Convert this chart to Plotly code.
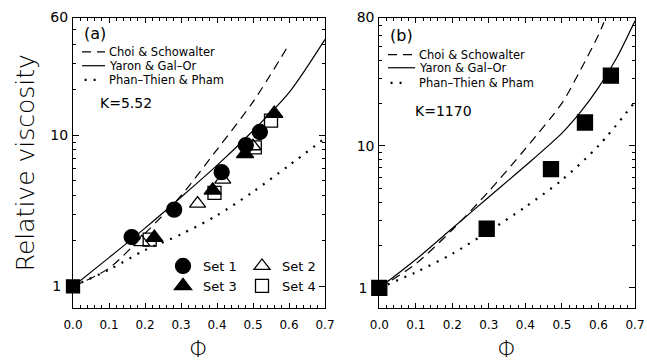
import plotly.graph_objects as go

# ---------------- data ----------------
# Panel (a), K = 5.52
phi_yaron_a = [0.0, 0.1, 0.2, 0.3, 0.4, 0.5, 0.6, 0.7]
eta_yaron_a = [1.00, 1.55, 2.43, 3.89, 6.31, 10.7, 19.1, 43.0]
phi_choi_a = [0.0, 0.1, 0.2, 0.3, 0.4, 0.5, 0.6]
eta_choi_a = [1.00, 1.32, 2.24, 3.98, 8.04, 16.6, 39.8]
phi_phan_a = [0.0, 0.1, 0.2, 0.3, 0.4, 0.5, 0.6, 0.7]
eta_phan_a = [1.00, 1.29, 1.74, 2.21, 2.95, 4.22, 6.31, 9.55]

phi_ref_a = [0.0]
eta_ref_a = [1.0]
phi_set1 = [0.163, 0.281, 0.413, 0.480, 0.519]
eta_set1 = [2.12, 3.22, 5.69, 8.59, 10.5]
phi_set2 = [0.191, 0.346, 0.416, 0.500]
eta_set2 = [1.96, 3.53, 5.09, 8.45]
phi_set3 = [0.226, 0.388, 0.478, 0.559]
eta_set3 = [2.10, 4.32, 7.53, 13.9]
phi_set4 = [0.213, 0.393, 0.505, 0.550]
eta_set4 = [2.04, 4.15, 8.30, 12.5]

# Panel (b), K = 1170
phi_yaron_b = [0.0, 0.1, 0.2, 0.3, 0.4, 0.5, 0.55, 0.6, 0.65, 0.7]
eta_yaron_b = [1.00, 1.585, 2.63, 4.37, 7.24, 12.3, 17.2, 25.7, 41.7, 75.9]
phi_choi_b = [0.0, 0.1, 0.2, 0.3, 0.4, 0.5, 0.55, 0.6, 0.615]
eta_choi_b = [1.00, 1.48, 2.57, 4.79, 9.55, 20.0, 33.9, 60.3, 74.1]
phi_phan_b = [0.0, 0.1, 0.2, 0.3, 0.4, 0.5, 0.6, 0.7]
eta_phan_b = [1.00, 1.29, 1.74, 2.51, 3.72, 5.75, 10.0, 20.4]
phi_exp_b = [0.0, 0.294, 0.470, 0.563, 0.634]
eta_exp_b = [1.00, 2.61, 6.85, 14.6, 31.2]

x_ticks = [0.0, 0.1, 0.2, 0.3, 0.4, 0.5, 0.6, 0.7]
y_ticks_a = [1, 10, 60]
y_ticks_b = [1, 10, 80]
y_minor = [2, 3, 4, 5, 6, 7, 8, 9, 20, 30, 40, 50, 60, 70]
model_names = ["Choi & Schowalter", "Yaron & Gal\u2013Or", "Phan\u2013Thien & Pham"]
set_names = ["Set 1", "Set 2", "Set 3", "Set 4"]

# ---------------- figure ----------------
FONT = "DejaVu Sans"
fig = go.Figure()

def line(x, y, ax, dash, width):
    fig.add_trace(go.Scatter(x=x, y=y, mode="lines", xaxis=ax[0], yaxis=ax[1],
                             line=dict(color="black", width=width, dash=dash, shape="spline",
                                       smoothing=0.8),
                             showlegend=False, hoverinfo="skip"))

A = ("x", "y")
B = ("x2", "y2")
DASH = "9px,6px"
DOT = "2px,7px"
line(phi_choi_a, eta_choi_a, A, DASH, 1.2)
line(phi_yaron_a, eta_yaron_a, A, "solid", 1.2)
line(phi_phan_a, eta_phan_a, A, DOT, 2.2)
line(phi_choi_b, eta_choi_b, B, DASH, 1.2)
line(phi_yaron_b, eta_yaron_b, B, "solid", 1.2)
line(phi_phan_b, eta_phan_b, B, DOT, 2.2)

def pts(x, y, ax, symbol, size, name=None, legend=None):
    fig.add_trace(go.Scatter(x=x, y=y, mode="markers", xaxis=ax[0], yaxis=ax[1],
                             marker=dict(symbol=symbol, size=size, color="black",
                                         line=dict(color="black", width=1.3)),
                             name=name, showlegend=name is not None,
                             legend=legend, cliponaxis=False))

pts(phi_ref_a, eta_ref_a, A, "square", 13)
pts(phi_set1, eta_set1, A, "circle", 15, set_names[0], "legend")
pts(phi_set3, eta_set3, A, "triangle-up", 15, set_names[2], "legend")
pts(phi_set2, eta_set2, A, "triangle-up-open", 14, set_names[1], "legend2")
pts(phi_set4, eta_set4, A, "square-open", 13, set_names[3], "legend2")
pts(phi_exp_b, eta_exp_b, B, "square", 15)

# axes
XD_A = [73 / 647, 325 / 647]
XD_B = [379.3 / 647, 635 / 647]
YD = [54 / 362, 344.5 / 362]

xcommon = dict(range=[0, 0.7], tickvals=x_ticks, tickformat=".1f", ticks="inside",
               ticklen=5, tickwidth=1, tickcolor="black", showline=True, linecolor="black",
               linewidth=1, mirror="allticks", showgrid=False, zeroline=False,
               ticklabelstandoff=6,
               minor=dict(ticks="inside", ticklen=3, dtick=0.02, tickcolor="black", showgrid=False),
               tickfont=dict(family=FONT, size=12, color="black"), automargin=False,
               title=dict(text="\u03a6", font=dict(family=FONT, size=23, color="black", weight=300),
                          standoff=14))
ycommon = dict(type="log", ticks="inside", ticklen=6, tickwidth=1, tickcolor="black",
               showline=True, linecolor="black", linewidth=1, mirror="allticks",
               showgrid=False, zeroline=False, tickmode="array", ticklabelstandoff=1,
               minor=dict(ticks="inside", ticklen=3, tickvals=y_minor, tickcolor="black", showgrid=False),
               tickfont=dict(family=FONT, size=14, color="black"), automargin=False)

def tick_text(vals):
    return [("1\u2002" if v == 1 else str(v)) for v in vals]

fig.update_layout(
    width=647, height=362, margin=dict(l=0, r=0, t=0, b=0),
    paper_bgcolor="white", plot_bgcolor="white",
    xaxis=dict(domain=XD_A, anchor="y", **xcommon),
    xaxis2=dict(domain=XD_B, anchor="y2", **xcommon),
    yaxis=dict(domain=YD, anchor="x", range=[-0.1427, 1.7782], tickvals=y_ticks_a,
               ticktext=tick_text(y_ticks_a),
               title=dict(text="Relative viscosity", standoff=8,
                          font=dict(family=FONT, size=25, color="black", weight=300)),
               **ycommon),
    yaxis2=dict(domain=YD, anchor="x2", range=[-0.141, 1.9031], tickvals=y_ticks_b,
                ticktext=tick_text(y_ticks_b), **ycommon),
    legend=dict(x=163 / 647, y=1 - 251 / 362, xanchor="left", yanchor="top",
                bgcolor="rgba(0,0,0,0)", font=dict(family=FONT, size=13, color="black"),
                tracegroupgap=0),
    legend2=dict(x=242 / 647, y=1 - 251 / 362, xanchor="left", yanchor="top",
                 bgcolor="rgba(0,0,0,0)", font=dict(family=FONT, size=13, color="black"),
                 tracegroupgap=0),
)

# in-panel model keys and labels
def key(xref, yref, x0, x1, y, dash, width):
    fig.add_shape(type="line", xref=xref, yref=yref, x0=x0, x1=x1, y0=y, y1=y,
                  line=dict(color="black", width=width, dash=dash))

def label(xref, yref, x, y, text, size):
    fig.add_annotation(xref=xref, yref=yref, x=x, y=y, text=text, showarrow=False,
                       xanchor="left", yanchor="middle",
                       font=dict(family=FONT, size=size, color="black"))

for xr, yr, panel, ktxt, kx, ky, lx0, lx1, tx, ys in [
    ("x domain", "y domain", "(a)", "K=5.52", 0.099, 0.706, 0.036, 0.127, 0.133, [0.882, 0.834, 0.785]),
    ("x2 domain", "y2 domain", "(b)", "K=1170", 0.132, 0.677, 0.034, 0.140, 0.146, [0.872, 0.827, 0.775]),
]:
    key(xr, yr, lx0, lx1, ys[0], DASH, 1.2)
    key(xr, yr, lx0, lx1, ys[1], "solid", 1.2)
    key(xr, yr, lx0 + 0.01, lx1 - 0.03, ys[2], DOT, 2.2)
    for name, yy in zip(model_names, ys):
        label(xr, yr, tx, yy, name, 11.5)
    label(xr, yr, 0.035, 0.945 if panel == "(a)" else 0.938, panel, 16)
    label(xr, yr, kx, ky, ktxt, 14)

fig.write_html("out.html")
